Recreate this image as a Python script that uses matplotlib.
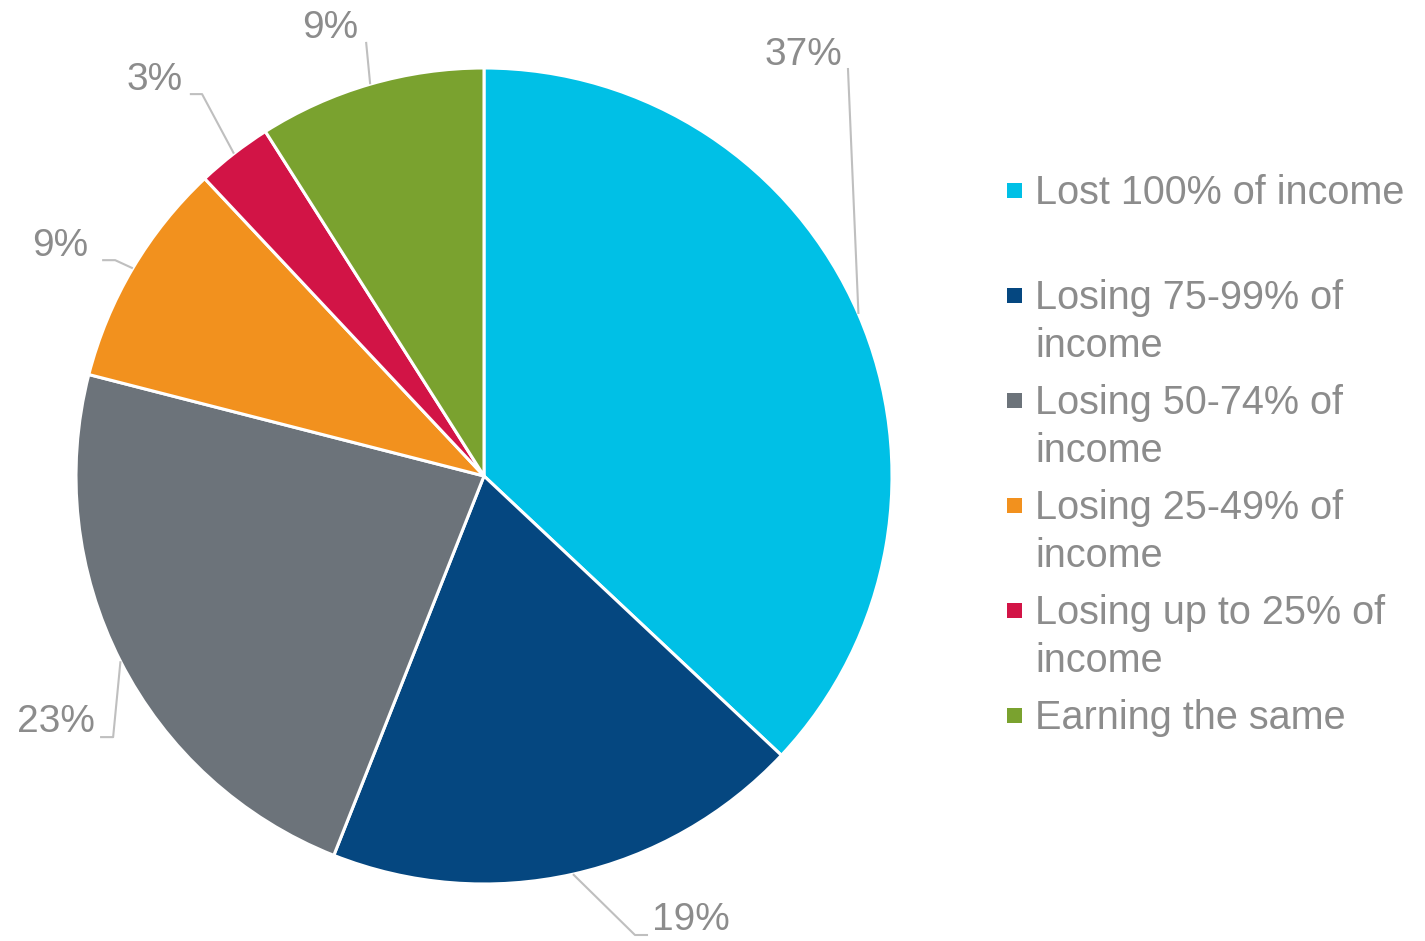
import numpy as np
import matplotlib
matplotlib.use('Agg')
import matplotlib.pyplot as plt
from matplotlib.patches import Rectangle

# Fatias da pizza (sentido horário a partir do topo)
categorias = ['Lost 100% of income', 'Losing 75-99% of\nincome', 'Losing 50-74% of\nincome',
              'Losing 25-49% of\nincome', 'Losing up to 25% of\nincome', 'Earning the same']
valores = [37, 19, 23, 9, 3, 9]
cores = ['#00c0e6', '#054780', '#6c737a', '#f2911e', '#d21446', '#7aa22f']

# Posição dos rótulos e cotovelo da linha guia (coordenadas do eixo, raio = 1)
pos_rotulo = [(0.782, 1.032, 'center'), (0.412, -1.088, 'left'), (-0.953, -0.603, 'right'),
              (-0.971, 0.564, 'right'), (-0.738, 0.971, 'right'), (-0.377, 1.098, 'center')]
guia = [[(0.892, 1.0)], [(0.402, -1.125), (0.370, -1.125)], [(-0.941, -0.640), (-0.909, -0.640)],
        [(-0.936, 0.529), (-0.904, 0.529)], [(-0.721, 0.936), (-0.691, 0.936)], [(-0.289, 1.064)]]

TXT = '#8c8c8c'
LINHA = '#bfbfbf'
plt.rcParams['font.family'] = ['Liberation Sans', 'DejaVu Sans']

W, H = 1425, 941
fig = plt.figure(figsize=(W / 100, H / 100), dpi=100)
cx, cy, r = 484, 476, 408
ax = fig.add_axes([(cx - r) / W, (H - cy - r) / H, 2 * r / W, 2 * r / H])

wedges, _ = ax.pie(valores, colors=cores, startangle=90, counterclock=False, radius=1.0,
                   wedgeprops=dict(edgecolor='white', linewidth=2.2))
ax.set_xlim(-1, 1)
ax.set_ylim(-1, 1)
ax.axis('off')

for w, v, (tx, ty, ha), pts in zip(wedges, valores, pos_rotulo, guia):
    ang = np.deg2rad((w.theta1 + w.theta2) / 2)
    borda = (np.cos(ang), np.sin(ang))
    xs = [p[0] for p in pts] + [borda[0]]
    ys = [p[1] for p in pts] + [borda[1]]
    ax.plot(xs, ys, color=LINHA, lw=1.5, clip_on=False, solid_capstyle='butt')
    ax.text(tx, ty, f'{v}%', ha=ha, va='center', fontsize=28, color=TXT, clip_on=False)

# Legenda desenhada à mão para manter espaçamento fixo entre entradas
y0 = 190
for i, (cat, cor) in enumerate(zip(categorias, cores)):
    y = y0 + i * 105
    fig.patches.append(Rectangle((1007 / W, (H - y - 8) / H), 15 / W, 15 / H,
                                 transform=fig.transFigure, facecolor=cor, edgecolor='none'))
    fig.text(1035 / W, (H - y + 16) / H, cat, ha='left', va='top', fontsize=28.5, color=TXT,
             linespacing=1.32, transform=fig.transFigure)

plt.savefig('out.png', dpi=100)
